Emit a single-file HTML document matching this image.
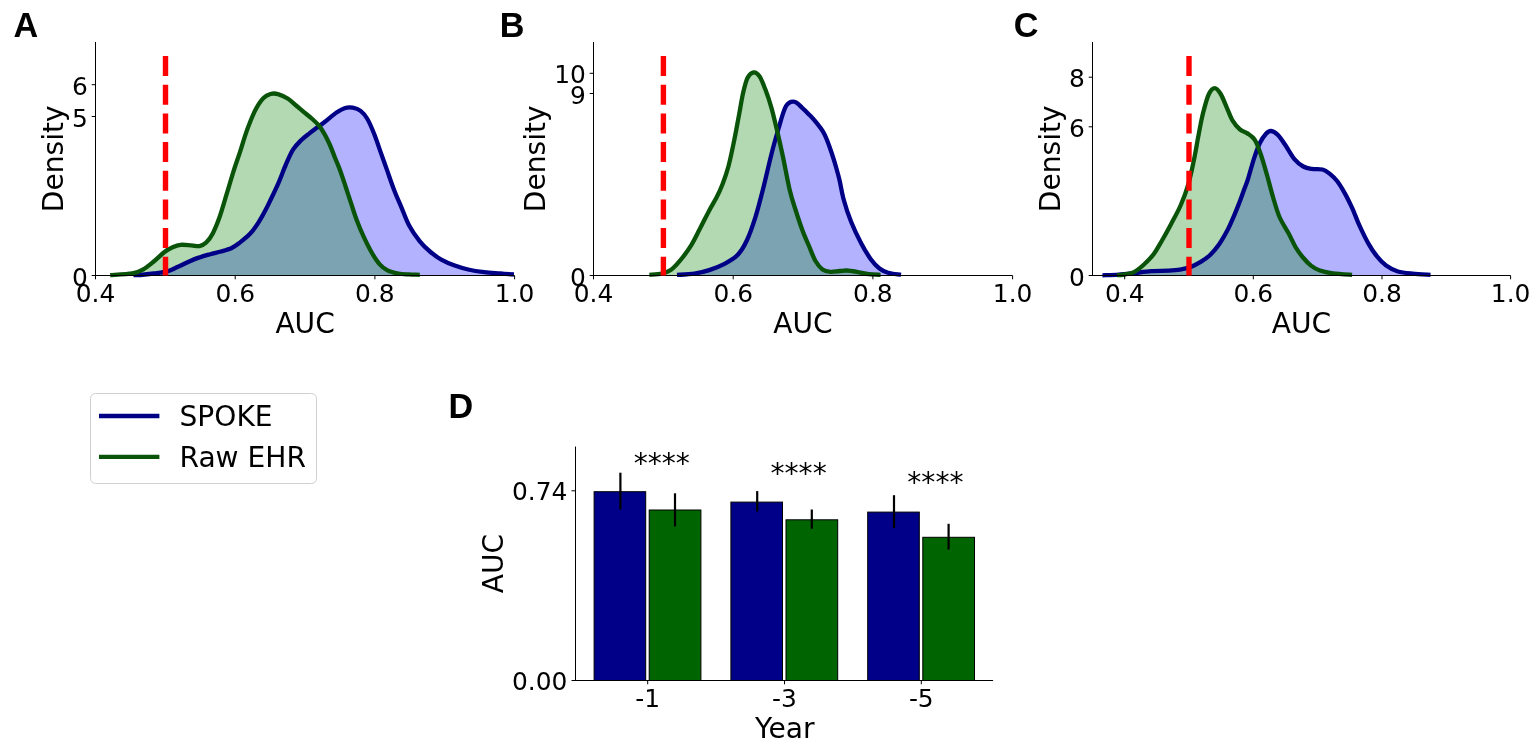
<!DOCTYPE html><html><head><meta charset="utf-8"><style>html,body{margin:0;padding:0;background:#fff;}svg{display:block;}text{font-family:"DejaVu Sans","Liberation Sans",sans-serif;fill:#000;}text.pl{font-family:"Liberation Sans",Arial,sans-serif;}</style></head><body>
<svg width="1535" height="744" viewBox="0 0 1535 744">
<rect x="0" y="0" width="1535" height="744" fill="#fff"/>
<path d="M133.5,275.2 C134.6,275.2 136.9,275.3 140.3,275.0 C143.7,274.7 149.3,274.1 153.8,273.5 C158.3,272.9 163.2,272.5 167.2,271.4 C171.2,270.3 174.4,268.4 178.0,266.8 C181.6,265.2 185.1,263.3 188.7,261.7 C192.3,260.1 195.9,258.6 199.5,257.4 C203.1,256.1 206.6,255.2 210.2,254.2 C213.8,253.2 217.4,252.5 221.0,251.5 C224.6,250.5 228.6,249.5 231.7,248.0 C234.8,246.5 236.9,244.8 239.8,242.6 C242.7,240.4 246.3,237.7 249.3,234.6 C252.3,231.5 254.9,228.0 257.6,223.8 C260.4,219.6 263.7,213.5 265.8,209.5 C267.9,205.5 268.4,204.4 270.5,200.0 C272.6,195.6 275.7,189.2 278.3,183.3 C280.9,177.4 283.4,170.1 285.9,164.5 C288.3,158.9 290.5,153.7 293.0,149.7 C295.5,145.7 298.4,143.0 301.1,140.3 C303.8,137.6 306.4,135.7 309.1,133.6 C311.8,131.5 314.5,129.6 317.2,127.6 C319.9,125.6 322.1,124.0 325.3,121.5 C328.5,119.0 333.3,114.7 336.5,112.5 C339.7,110.3 341.8,109.0 344.5,108.2 C347.2,107.4 349.9,107.2 352.6,107.7 C355.3,108.2 358.1,109.0 360.6,110.9 C363.1,112.8 365.1,115.2 367.4,119.0 C369.6,122.8 371.9,128.2 374.1,133.8 C376.3,139.4 378.6,146.3 380.8,152.6 C383.0,158.9 385.3,165.1 387.5,171.4 C389.7,177.7 391.9,184.4 394.2,190.2 C396.4,196.0 398.5,200.5 401.0,206.3 C403.5,212.1 405.9,219.4 409.0,225.2 C412.1,231.0 416.2,236.8 419.8,241.3 C423.4,245.8 426.9,248.9 430.5,252.0 C434.1,255.1 437.3,257.4 441.3,259.6 C445.3,261.9 450.2,263.9 454.7,265.5 C459.2,267.1 463.3,268.4 468.2,269.5 C473.1,270.6 478.9,271.5 484.3,272.2 C489.7,272.9 495.5,273.1 500.4,273.5 C505.3,273.9 511.6,274.3 513.9,274.5 L513.9,275.5 L133.5,275.5 Z" fill="rgba(0,0,255,0.3)" stroke="none"/>
<path d="M110.2,275.1 C113.9,274.8 126.8,274.2 132.3,273.3 C137.8,272.4 139.4,271.5 143.0,269.5 C146.6,267.5 150.2,264.4 153.8,261.5 C157.4,258.6 161.4,254.4 164.5,252.0 C167.6,249.6 169.9,248.4 172.6,247.2 C175.3,246.0 177.5,245.1 180.6,244.8 C183.7,244.5 188.2,245.1 191.4,245.3 C194.6,245.5 197.0,246.6 199.5,246.1 C202.0,245.6 204.0,244.8 206.2,242.6 C208.4,240.4 210.7,237.4 212.9,233.2 C215.1,228.9 217.2,223.8 219.6,217.1 C221.9,210.4 224.7,200.5 227.0,192.9 C229.3,185.3 231.4,178.1 233.5,171.4 C235.6,164.7 237.8,158.7 239.8,152.6 C241.8,146.5 243.5,140.5 245.3,135.1 C247.1,129.7 249.0,124.8 250.8,120.3 C252.6,115.8 254.2,111.9 256.3,108.2 C258.4,104.5 261.1,100.4 263.5,98.0 C265.9,95.6 268.1,94.7 270.5,94.0 C272.9,93.3 275.1,93.3 278.0,94.1 C280.9,94.9 285.1,96.9 288.1,98.8 C291.1,100.7 293.4,103.2 296.1,105.5 C298.8,107.8 301.5,110.0 304.2,112.3 C306.9,114.5 309.8,116.8 312.3,119.0 C314.8,121.2 317.0,123.2 319.0,125.7 C321.0,128.2 322.6,130.7 324.4,133.8 C326.2,136.9 327.9,140.5 329.7,144.5 C331.5,148.5 333.3,153.5 335.1,158.0 C336.9,162.5 338.7,166.5 340.5,171.4 C342.3,176.3 344.1,182.1 345.9,187.5 C347.7,192.9 349.4,198.3 351.2,203.7 C353.0,209.1 354.6,214.4 356.6,219.8 C358.6,225.2 360.8,230.5 363.3,235.9 C365.8,241.3 368.7,247.3 371.4,252.0 C374.1,256.7 376.8,261.1 379.5,264.1 C382.2,267.2 384.4,268.7 387.5,270.3 C390.6,271.9 394.7,272.8 398.3,273.5 C401.9,274.2 405.4,274.2 409.0,274.4 C412.6,274.6 418.0,274.7 419.8,274.8 L419.8,275.5 L110.2,275.5 Z" fill="rgba(0,128,0,0.3)" stroke="none"/>
<path d="M133.5,275.2 C134.6,275.2 136.9,275.3 140.3,275.0 C143.7,274.7 149.3,274.1 153.8,273.5 C158.3,272.9 163.2,272.5 167.2,271.4 C171.2,270.3 174.4,268.4 178.0,266.8 C181.6,265.2 185.1,263.3 188.7,261.7 C192.3,260.1 195.9,258.6 199.5,257.4 C203.1,256.1 206.6,255.2 210.2,254.2 C213.8,253.2 217.4,252.5 221.0,251.5 C224.6,250.5 228.6,249.5 231.7,248.0 C234.8,246.5 236.9,244.8 239.8,242.6 C242.7,240.4 246.3,237.7 249.3,234.6 C252.3,231.5 254.9,228.0 257.6,223.8 C260.4,219.6 263.7,213.5 265.8,209.5 C267.9,205.5 268.4,204.4 270.5,200.0 C272.6,195.6 275.7,189.2 278.3,183.3 C280.9,177.4 283.4,170.1 285.9,164.5 C288.3,158.9 290.5,153.7 293.0,149.7 C295.5,145.7 298.4,143.0 301.1,140.3 C303.8,137.6 306.4,135.7 309.1,133.6 C311.8,131.5 314.5,129.6 317.2,127.6 C319.9,125.6 322.1,124.0 325.3,121.5 C328.5,119.0 333.3,114.7 336.5,112.5 C339.7,110.3 341.8,109.0 344.5,108.2 C347.2,107.4 349.9,107.2 352.6,107.7 C355.3,108.2 358.1,109.0 360.6,110.9 C363.1,112.8 365.1,115.2 367.4,119.0 C369.6,122.8 371.9,128.2 374.1,133.8 C376.3,139.4 378.6,146.3 380.8,152.6 C383.0,158.9 385.3,165.1 387.5,171.4 C389.7,177.7 391.9,184.4 394.2,190.2 C396.4,196.0 398.5,200.5 401.0,206.3 C403.5,212.1 405.9,219.4 409.0,225.2 C412.1,231.0 416.2,236.8 419.8,241.3 C423.4,245.8 426.9,248.9 430.5,252.0 C434.1,255.1 437.3,257.4 441.3,259.6 C445.3,261.9 450.2,263.9 454.7,265.5 C459.2,267.1 463.3,268.4 468.2,269.5 C473.1,270.6 478.9,271.5 484.3,272.2 C489.7,272.9 495.5,273.1 500.4,273.5 C505.3,273.9 511.6,274.3 513.9,274.5" fill="none" stroke="#000086" stroke-width="4.30" stroke-linejoin="round" stroke-linecap="butt"/>
<path d="M110.2,275.1 C113.9,274.8 126.8,274.2 132.3,273.3 C137.8,272.4 139.4,271.5 143.0,269.5 C146.6,267.5 150.2,264.4 153.8,261.5 C157.4,258.6 161.4,254.4 164.5,252.0 C167.6,249.6 169.9,248.4 172.6,247.2 C175.3,246.0 177.5,245.1 180.6,244.8 C183.7,244.5 188.2,245.1 191.4,245.3 C194.6,245.5 197.0,246.6 199.5,246.1 C202.0,245.6 204.0,244.8 206.2,242.6 C208.4,240.4 210.7,237.4 212.9,233.2 C215.1,228.9 217.2,223.8 219.6,217.1 C221.9,210.4 224.7,200.5 227.0,192.9 C229.3,185.3 231.4,178.1 233.5,171.4 C235.6,164.7 237.8,158.7 239.8,152.6 C241.8,146.5 243.5,140.5 245.3,135.1 C247.1,129.7 249.0,124.8 250.8,120.3 C252.6,115.8 254.2,111.9 256.3,108.2 C258.4,104.5 261.1,100.4 263.5,98.0 C265.9,95.6 268.1,94.7 270.5,94.0 C272.9,93.3 275.1,93.3 278.0,94.1 C280.9,94.9 285.1,96.9 288.1,98.8 C291.1,100.7 293.4,103.2 296.1,105.5 C298.8,107.8 301.5,110.0 304.2,112.3 C306.9,114.5 309.8,116.8 312.3,119.0 C314.8,121.2 317.0,123.2 319.0,125.7 C321.0,128.2 322.6,130.7 324.4,133.8 C326.2,136.9 327.9,140.5 329.7,144.5 C331.5,148.5 333.3,153.5 335.1,158.0 C336.9,162.5 338.7,166.5 340.5,171.4 C342.3,176.3 344.1,182.1 345.9,187.5 C347.7,192.9 349.4,198.3 351.2,203.7 C353.0,209.1 354.6,214.4 356.6,219.8 C358.6,225.2 360.8,230.5 363.3,235.9 C365.8,241.3 368.7,247.3 371.4,252.0 C374.1,256.7 376.8,261.1 379.5,264.1 C382.2,267.2 384.4,268.7 387.5,270.3 C390.6,271.9 394.7,272.8 398.3,273.5 C401.9,274.2 405.4,274.2 409.0,274.4 C412.6,274.6 418.0,274.7 419.8,274.8" fill="none" stroke="#0a540a" stroke-width="4.30" stroke-linejoin="round" stroke-linecap="butt"/>
<line x1="95.5" y1="42" x2="95.5" y2="276.0" stroke="#000" stroke-width="1"/>
<line x1="95.0" y1="275.5" x2="514.6" y2="275.5" stroke="#000" stroke-width="1"/>
<line x1="95.5" y1="275.5" x2="95.5" y2="279.3" stroke="#000" stroke-width="1"/>
<text x="95.5" y="302.2" font-size="24.9" text-anchor="middle">0.4</text>
<line x1="235.2" y1="275.5" x2="235.2" y2="279.3" stroke="#000" stroke-width="1"/>
<text x="235.2" y="302.2" font-size="24.9" text-anchor="middle">0.6</text>
<line x1="374.9" y1="275.5" x2="374.9" y2="279.3" stroke="#000" stroke-width="1"/>
<text x="374.9" y="302.2" font-size="24.9" text-anchor="middle">0.8</text>
<line x1="514.6" y1="275.5" x2="514.6" y2="279.3" stroke="#000" stroke-width="1"/>
<text x="514.6" y="302.2" font-size="24.9" text-anchor="middle">1.0</text>
<line x1="91.7" y1="275.5" x2="95.5" y2="275.5" stroke="#000" stroke-width="1"/>
<text x="87.9" y="285.5" font-size="24.9" text-anchor="end">0</text>
<line x1="91.7" y1="116.5" x2="95.5" y2="116.5" stroke="#000" stroke-width="1"/>
<text x="87.9" y="126.5" font-size="24.9" text-anchor="end">5</text>
<line x1="91.7" y1="84.7" x2="95.5" y2="84.7" stroke="#000" stroke-width="1"/>
<text x="87.9" y="94.7" font-size="24.9" text-anchor="end">6</text>
<line x1="165.5" y1="56.1" x2="165.5" y2="275.5" stroke="#ff0000" stroke-width="5.4" stroke-dasharray="20 8.67"/>
<text x="305.1" y="332.7" font-size="28.1" text-anchor="middle">AUC</text>
<text transform="translate(63.3,158.8) rotate(-90)" x="0" y="0" font-size="28.1" text-anchor="middle">Density</text>
<text x="13.4" y="36.6" font-size="34.2" font-weight="bold" class="pl">A</text>
<path d="M677.0,274.9 C679.9,274.7 689.0,274.4 694.4,273.6 C699.8,272.8 704.3,271.7 709.2,270.1 C714.1,268.5 719.3,266.6 724.0,264.1 C728.7,261.6 733.5,259.2 737.3,255.3 C741.1,251.4 743.8,246.9 746.8,240.5 C749.8,234.1 752.7,225.7 755.5,216.8 C758.3,207.9 760.9,197.5 763.5,187.2 C766.1,176.8 768.8,164.6 771.3,154.7 C773.8,144.8 776.3,136.1 778.7,128.0 C781.1,119.9 783.4,110.7 785.9,106.3 C788.4,101.9 791.3,101.3 794.0,101.6 C796.7,101.8 799.6,105.5 802.2,107.8 C804.8,110.0 807.1,112.5 809.6,115.1 C812.1,117.7 814.8,120.6 817.0,123.3 C819.2,126.0 821.2,128.6 822.9,131.4 C824.6,134.2 825.5,136.2 827.0,140.0 C828.5,143.8 830.5,149.5 832.0,154.0 C833.5,158.5 834.8,162.7 836.0,167.0 C837.2,171.3 838.2,174.5 839.5,180.0 C840.8,185.5 841.9,193.1 843.8,200.0 C845.7,206.9 848.1,214.3 851.0,221.5 C853.9,228.7 857.7,236.7 861.0,243.0 C864.3,249.3 867.9,255.2 871.0,259.5 C874.1,263.8 876.7,266.3 879.5,268.5 C882.3,270.7 884.4,271.6 888.0,272.7 C891.6,273.8 898.8,274.4 901.0,274.8 L901.0,275.5 L677.0,275.5 Z" fill="rgba(0,0,255,0.3)" stroke="none"/>
<path d="M649.4,274.8 C651.5,274.6 658.2,274.4 661.8,273.6 C665.3,272.8 667.7,272.2 670.7,270.1 C673.7,268.0 676.3,265.1 679.6,261.2 C682.9,257.2 687.1,251.8 690.5,246.4 C693.9,241.0 696.9,234.5 700.0,228.6 C703.1,222.7 706.2,216.1 709.0,210.9 C711.8,205.7 714.2,202.0 716.5,197.6 C718.8,193.2 720.5,189.5 722.5,184.3 C724.5,179.1 726.4,173.9 728.4,166.5 C730.4,159.1 732.6,148.3 734.3,139.9 C736.0,131.5 737.3,124.1 738.8,116.2 C740.3,108.3 741.7,98.9 743.2,92.5 C744.7,86.1 745.9,81.1 747.6,77.8 C749.3,74.5 751.6,72.7 753.6,72.4 C755.6,72.2 757.5,73.4 759.5,76.3 C761.5,79.2 763.4,84.4 765.4,89.6 C767.4,94.8 769.3,100.4 771.3,107.3 C773.3,114.2 775.2,122.7 777.2,131.0 C779.2,139.3 780.9,147.2 783.0,157.0 C785.1,166.8 787.6,181.2 789.7,190.0 C791.8,198.8 793.5,203.3 795.6,210.0 C797.7,216.7 800.1,224.0 802.3,230.0 C804.5,236.0 806.8,240.8 809.0,246.0 C811.2,251.2 813.2,257.1 815.5,261.0 C817.8,264.9 820.0,267.7 822.5,269.5 C825.0,271.3 827.7,271.6 830.5,271.8 C833.3,272.1 836.6,271.2 839.3,271.0 C842.0,270.8 843.7,270.4 846.6,270.5 C849.5,270.6 853.2,271.2 856.9,271.8 C860.6,272.4 864.8,273.7 868.8,274.2 C872.8,274.7 878.6,274.7 880.6,274.8 L880.6,275.5 L649.4,275.5 Z" fill="rgba(0,128,0,0.3)" stroke="none"/>
<path d="M677.0,274.9 C679.9,274.7 689.0,274.4 694.4,273.6 C699.8,272.8 704.3,271.7 709.2,270.1 C714.1,268.5 719.3,266.6 724.0,264.1 C728.7,261.6 733.5,259.2 737.3,255.3 C741.1,251.4 743.8,246.9 746.8,240.5 C749.8,234.1 752.7,225.7 755.5,216.8 C758.3,207.9 760.9,197.5 763.5,187.2 C766.1,176.8 768.8,164.6 771.3,154.7 C773.8,144.8 776.3,136.1 778.7,128.0 C781.1,119.9 783.4,110.7 785.9,106.3 C788.4,101.9 791.3,101.3 794.0,101.6 C796.7,101.8 799.6,105.5 802.2,107.8 C804.8,110.0 807.1,112.5 809.6,115.1 C812.1,117.7 814.8,120.6 817.0,123.3 C819.2,126.0 821.2,128.6 822.9,131.4 C824.6,134.2 825.5,136.2 827.0,140.0 C828.5,143.8 830.5,149.5 832.0,154.0 C833.5,158.5 834.8,162.7 836.0,167.0 C837.2,171.3 838.2,174.5 839.5,180.0 C840.8,185.5 841.9,193.1 843.8,200.0 C845.7,206.9 848.1,214.3 851.0,221.5 C853.9,228.7 857.7,236.7 861.0,243.0 C864.3,249.3 867.9,255.2 871.0,259.5 C874.1,263.8 876.7,266.3 879.5,268.5 C882.3,270.7 884.4,271.6 888.0,272.7 C891.6,273.8 898.8,274.4 901.0,274.8" fill="none" stroke="#000086" stroke-width="4.30" stroke-linejoin="round" stroke-linecap="butt"/>
<path d="M649.4,274.8 C651.5,274.6 658.2,274.4 661.8,273.6 C665.3,272.8 667.7,272.2 670.7,270.1 C673.7,268.0 676.3,265.1 679.6,261.2 C682.9,257.2 687.1,251.8 690.5,246.4 C693.9,241.0 696.9,234.5 700.0,228.6 C703.1,222.7 706.2,216.1 709.0,210.9 C711.8,205.7 714.2,202.0 716.5,197.6 C718.8,193.2 720.5,189.5 722.5,184.3 C724.5,179.1 726.4,173.9 728.4,166.5 C730.4,159.1 732.6,148.3 734.3,139.9 C736.0,131.5 737.3,124.1 738.8,116.2 C740.3,108.3 741.7,98.9 743.2,92.5 C744.7,86.1 745.9,81.1 747.6,77.8 C749.3,74.5 751.6,72.7 753.6,72.4 C755.6,72.2 757.5,73.4 759.5,76.3 C761.5,79.2 763.4,84.4 765.4,89.6 C767.4,94.8 769.3,100.4 771.3,107.3 C773.3,114.2 775.2,122.7 777.2,131.0 C779.2,139.3 780.9,147.2 783.0,157.0 C785.1,166.8 787.6,181.2 789.7,190.0 C791.8,198.8 793.5,203.3 795.6,210.0 C797.7,216.7 800.1,224.0 802.3,230.0 C804.5,236.0 806.8,240.8 809.0,246.0 C811.2,251.2 813.2,257.1 815.5,261.0 C817.8,264.9 820.0,267.7 822.5,269.5 C825.0,271.3 827.7,271.6 830.5,271.8 C833.3,272.1 836.6,271.2 839.3,271.0 C842.0,270.8 843.7,270.4 846.6,270.5 C849.5,270.6 853.2,271.2 856.9,271.8 C860.6,272.4 864.8,273.7 868.8,274.2 C872.8,274.7 878.6,274.7 880.6,274.8" fill="none" stroke="#0a540a" stroke-width="4.30" stroke-linejoin="round" stroke-linecap="butt"/>
<line x1="593.5" y1="42" x2="593.5" y2="276.0" stroke="#000" stroke-width="1"/>
<line x1="593.0" y1="275.5" x2="1012.6" y2="275.5" stroke="#000" stroke-width="1"/>
<line x1="593.5" y1="275.5" x2="593.5" y2="279.3" stroke="#000" stroke-width="1"/>
<text x="593.5" y="302.2" font-size="24.9" text-anchor="middle">0.4</text>
<line x1="733.2" y1="275.5" x2="733.2" y2="279.3" stroke="#000" stroke-width="1"/>
<text x="733.2" y="302.2" font-size="24.9" text-anchor="middle">0.6</text>
<line x1="872.9" y1="275.5" x2="872.9" y2="279.3" stroke="#000" stroke-width="1"/>
<text x="872.9" y="302.2" font-size="24.9" text-anchor="middle">0.8</text>
<line x1="1012.6" y1="275.5" x2="1012.6" y2="279.3" stroke="#000" stroke-width="1"/>
<text x="1012.6" y="302.2" font-size="24.9" text-anchor="middle">1.0</text>
<line x1="589.7" y1="275.5" x2="593.5" y2="275.5" stroke="#000" stroke-width="1"/>
<text x="585.9" y="285.5" font-size="24.9" text-anchor="end">0</text>
<line x1="589.7" y1="93.5" x2="593.5" y2="93.5" stroke="#000" stroke-width="1"/>
<text x="585.9" y="103.5" font-size="24.9" text-anchor="end">9</text>
<line x1="589.7" y1="73.3" x2="593.5" y2="73.3" stroke="#000" stroke-width="1"/>
<text x="585.9" y="83.3" font-size="24.9" text-anchor="end">10</text>
<line x1="663.4" y1="56.1" x2="663.4" y2="275.5" stroke="#ff0000" stroke-width="5.4" stroke-dasharray="20 8.67"/>
<text x="803.0" y="332.7" font-size="28.1" text-anchor="middle">AUC</text>
<text transform="translate(544.5,158.8) rotate(-90)" x="0" y="0" font-size="28.1" text-anchor="middle">Density</text>
<text x="499.7" y="36.6" font-size="34.2" font-weight="bold" class="pl">B</text>
<path d="M1102.4,275.3 C1105.1,275.2 1113.5,275.1 1118.7,274.7 C1123.9,274.3 1128.1,273.8 1133.5,273.2 C1138.9,272.6 1145.3,271.6 1151.2,271.2 C1157.1,270.8 1164.2,271.0 1169.0,270.7 C1173.8,270.4 1176.4,270.2 1180.0,269.6 C1183.6,269.0 1187.4,268.1 1190.8,266.9 C1194.2,265.7 1197.1,264.1 1200.2,262.2 C1203.3,260.3 1206.5,258.4 1209.6,255.5 C1212.7,252.6 1216.1,248.6 1219.0,244.5 C1221.9,240.4 1224.5,235.8 1227.0,231.1 C1229.5,226.4 1231.7,221.1 1233.8,216.3 C1235.9,211.5 1237.6,207.1 1239.4,202.5 C1241.2,197.9 1243.0,192.5 1244.5,188.5 C1246.0,184.5 1246.6,183.5 1248.2,178.3 C1249.8,173.2 1252.3,163.5 1254.3,157.6 C1256.3,151.7 1258.1,146.7 1260.0,142.8 C1261.9,138.9 1264.0,136.0 1265.8,134.0 C1267.6,132.0 1268.9,130.8 1271.0,131.0 C1273.1,131.2 1275.9,132.9 1278.4,135.4 C1280.9,137.9 1283.1,141.9 1285.8,145.8 C1288.5,149.8 1291.5,155.7 1294.4,159.1 C1297.3,162.5 1300.3,164.9 1303.3,166.5 C1306.2,168.1 1308.9,168.4 1312.1,168.9 C1315.3,169.4 1319.5,168.7 1322.5,169.5 C1325.5,170.3 1327.4,171.9 1329.9,173.9 C1332.4,175.9 1334.8,178.1 1337.3,181.3 C1339.8,184.5 1342.2,188.7 1344.7,193.1 C1347.2,197.5 1349.6,202.5 1352.1,207.9 C1354.6,213.3 1356.8,219.8 1359.5,225.7 C1362.2,231.6 1365.3,238.2 1368.3,243.4 C1371.2,248.6 1374.2,253.0 1377.2,256.7 C1380.2,260.4 1382.6,263.1 1386.1,265.6 C1389.5,268.1 1393.5,270.2 1397.9,271.5 C1402.3,272.8 1407.3,273.1 1412.7,273.6 C1418.1,274.2 1427.5,274.6 1430.5,274.8 L1430.5,275.5 L1102.4,275.5 Z" fill="rgba(0,0,255,0.3)" stroke="none"/>
<path d="M1117.0,275.2 C1118.2,275.1 1121.1,275.2 1124.0,274.6 C1126.9,274.0 1131.1,273.6 1134.5,271.8 C1137.9,270.0 1141.3,267.0 1144.5,264.0 C1147.7,261.0 1150.9,257.9 1153.8,254.0 C1156.7,250.1 1159.1,245.5 1162.0,240.5 C1164.9,235.5 1167.9,230.1 1171.0,224.2 C1174.1,218.3 1177.9,211.7 1180.8,205.0 C1183.7,198.3 1186.1,191.7 1188.3,184.3 C1190.5,176.9 1192.1,168.5 1193.8,160.6 C1195.5,152.7 1196.7,144.8 1198.2,136.9 C1199.7,129.0 1201.2,120.5 1203.0,113.3 C1204.8,106.1 1206.9,98.2 1208.9,94.0 C1210.9,89.8 1212.8,88.1 1214.8,88.1 C1216.8,88.1 1218.7,90.8 1220.7,94.0 C1222.7,97.2 1224.7,102.8 1226.7,107.3 C1228.7,111.8 1230.4,117.0 1232.6,120.7 C1234.8,124.4 1237.5,127.4 1240.0,129.5 C1242.5,131.6 1244.9,131.7 1247.4,133.4 C1249.9,135.1 1252.5,136.3 1254.8,139.9 C1257.1,143.5 1259.0,149.2 1261.0,155.0 C1263.0,160.8 1265.0,168.0 1267.0,175.0 C1269.0,182.0 1270.9,190.0 1273.0,197.0 C1275.1,204.0 1276.9,211.0 1279.5,217.0 C1282.1,223.0 1285.7,228.0 1288.4,233.0 C1291.1,238.0 1293.1,242.9 1295.5,247.0 C1297.9,251.1 1300.4,254.4 1303.0,257.5 C1305.6,260.6 1308.2,263.4 1311.0,265.6 C1313.8,267.8 1316.3,269.2 1320.0,270.5 C1323.7,271.8 1327.7,272.7 1333.0,273.4 C1338.3,274.1 1348.9,274.6 1352.1,274.8 L1352.1,275.5 L1117.0,275.5 Z" fill="rgba(0,128,0,0.3)" stroke="none"/>
<path d="M1102.4,275.3 C1105.1,275.2 1113.5,275.1 1118.7,274.7 C1123.9,274.3 1128.1,273.8 1133.5,273.2 C1138.9,272.6 1145.3,271.6 1151.2,271.2 C1157.1,270.8 1164.2,271.0 1169.0,270.7 C1173.8,270.4 1176.4,270.2 1180.0,269.6 C1183.6,269.0 1187.4,268.1 1190.8,266.9 C1194.2,265.7 1197.1,264.1 1200.2,262.2 C1203.3,260.3 1206.5,258.4 1209.6,255.5 C1212.7,252.6 1216.1,248.6 1219.0,244.5 C1221.9,240.4 1224.5,235.8 1227.0,231.1 C1229.5,226.4 1231.7,221.1 1233.8,216.3 C1235.9,211.5 1237.6,207.1 1239.4,202.5 C1241.2,197.9 1243.0,192.5 1244.5,188.5 C1246.0,184.5 1246.6,183.5 1248.2,178.3 C1249.8,173.2 1252.3,163.5 1254.3,157.6 C1256.3,151.7 1258.1,146.7 1260.0,142.8 C1261.9,138.9 1264.0,136.0 1265.8,134.0 C1267.6,132.0 1268.9,130.8 1271.0,131.0 C1273.1,131.2 1275.9,132.9 1278.4,135.4 C1280.9,137.9 1283.1,141.9 1285.8,145.8 C1288.5,149.8 1291.5,155.7 1294.4,159.1 C1297.3,162.5 1300.3,164.9 1303.3,166.5 C1306.2,168.1 1308.9,168.4 1312.1,168.9 C1315.3,169.4 1319.5,168.7 1322.5,169.5 C1325.5,170.3 1327.4,171.9 1329.9,173.9 C1332.4,175.9 1334.8,178.1 1337.3,181.3 C1339.8,184.5 1342.2,188.7 1344.7,193.1 C1347.2,197.5 1349.6,202.5 1352.1,207.9 C1354.6,213.3 1356.8,219.8 1359.5,225.7 C1362.2,231.6 1365.3,238.2 1368.3,243.4 C1371.2,248.6 1374.2,253.0 1377.2,256.7 C1380.2,260.4 1382.6,263.1 1386.1,265.6 C1389.5,268.1 1393.5,270.2 1397.9,271.5 C1402.3,272.8 1407.3,273.1 1412.7,273.6 C1418.1,274.2 1427.5,274.6 1430.5,274.8" fill="none" stroke="#000086" stroke-width="4.30" stroke-linejoin="round" stroke-linecap="butt"/>
<path d="M1117.0,275.2 C1118.2,275.1 1121.1,275.2 1124.0,274.6 C1126.9,274.0 1131.1,273.6 1134.5,271.8 C1137.9,270.0 1141.3,267.0 1144.5,264.0 C1147.7,261.0 1150.9,257.9 1153.8,254.0 C1156.7,250.1 1159.1,245.5 1162.0,240.5 C1164.9,235.5 1167.9,230.1 1171.0,224.2 C1174.1,218.3 1177.9,211.7 1180.8,205.0 C1183.7,198.3 1186.1,191.7 1188.3,184.3 C1190.5,176.9 1192.1,168.5 1193.8,160.6 C1195.5,152.7 1196.7,144.8 1198.2,136.9 C1199.7,129.0 1201.2,120.5 1203.0,113.3 C1204.8,106.1 1206.9,98.2 1208.9,94.0 C1210.9,89.8 1212.8,88.1 1214.8,88.1 C1216.8,88.1 1218.7,90.8 1220.7,94.0 C1222.7,97.2 1224.7,102.8 1226.7,107.3 C1228.7,111.8 1230.4,117.0 1232.6,120.7 C1234.8,124.4 1237.5,127.4 1240.0,129.5 C1242.5,131.6 1244.9,131.7 1247.4,133.4 C1249.9,135.1 1252.5,136.3 1254.8,139.9 C1257.1,143.5 1259.0,149.2 1261.0,155.0 C1263.0,160.8 1265.0,168.0 1267.0,175.0 C1269.0,182.0 1270.9,190.0 1273.0,197.0 C1275.1,204.0 1276.9,211.0 1279.5,217.0 C1282.1,223.0 1285.7,228.0 1288.4,233.0 C1291.1,238.0 1293.1,242.9 1295.5,247.0 C1297.9,251.1 1300.4,254.4 1303.0,257.5 C1305.6,260.6 1308.2,263.4 1311.0,265.6 C1313.8,267.8 1316.3,269.2 1320.0,270.5 C1323.7,271.8 1327.7,272.7 1333.0,273.4 C1338.3,274.1 1348.9,274.6 1352.1,274.8" fill="none" stroke="#0a540a" stroke-width="4.30" stroke-linejoin="round" stroke-linecap="butt"/>
<line x1="1092.5" y1="42" x2="1092.5" y2="276.0" stroke="#000" stroke-width="1"/>
<line x1="1092.0" y1="275.5" x2="1510.6" y2="275.5" stroke="#000" stroke-width="1"/>
<line x1="1124.7" y1="275.5" x2="1124.7" y2="279.3" stroke="#000" stroke-width="1"/>
<text x="1124.7" y="302.2" font-size="24.9" text-anchor="middle">0.4</text>
<line x1="1253.3" y1="275.5" x2="1253.3" y2="279.3" stroke="#000" stroke-width="1"/>
<text x="1253.3" y="302.2" font-size="24.9" text-anchor="middle">0.6</text>
<line x1="1382.0" y1="275.5" x2="1382.0" y2="279.3" stroke="#000" stroke-width="1"/>
<text x="1382.0" y="302.2" font-size="24.9" text-anchor="middle">0.8</text>
<line x1="1510.6" y1="275.5" x2="1510.6" y2="279.3" stroke="#000" stroke-width="1"/>
<text x="1510.6" y="302.2" font-size="24.9" text-anchor="middle">1.0</text>
<line x1="1088.7" y1="275.5" x2="1092.5" y2="275.5" stroke="#000" stroke-width="1"/>
<text x="1084.9" y="285.5" font-size="24.9" text-anchor="end">0</text>
<line x1="1088.7" y1="126.8" x2="1092.5" y2="126.8" stroke="#000" stroke-width="1"/>
<text x="1084.9" y="136.8" font-size="24.9" text-anchor="end">6</text>
<line x1="1088.7" y1="77.2" x2="1092.5" y2="77.2" stroke="#000" stroke-width="1"/>
<text x="1084.9" y="87.2" font-size="24.9" text-anchor="end">8</text>
<line x1="1189.0" y1="56.1" x2="1189.0" y2="275.5" stroke="#ff0000" stroke-width="5.4" stroke-dasharray="20 8.67"/>
<text x="1301.5" y="332.7" font-size="28.1" text-anchor="middle">AUC</text>
<text transform="translate(1060.3,158.8) rotate(-90)" x="0" y="0" font-size="28.1" text-anchor="middle">Density</text>
<text x="1013.7" y="36.6" font-size="34.2" font-weight="bold" class="pl">C</text>
<rect x="90.5" y="393.5" width="226" height="90" rx="5" ry="5" fill="#fff" stroke="#d0d0d0" stroke-width="1"/>
<line x1="99" y1="416" x2="159.4" y2="416" stroke="#000086" stroke-width="4.30"/>
<line x1="99" y1="456.9" x2="159.4" y2="456.9" stroke="#0a540a" stroke-width="4.30"/>
<text x="179.5" y="425.7" font-size="28.1">SPOKE</text>
<text x="179.5" y="466.7" font-size="28.1">Raw EHR</text>
<rect x="594.1" y="491.7" width="51.6" height="188.8" fill="#000088" stroke="#000" stroke-width="1"/>
<rect x="649.2" y="510.0" width="51.7" height="170.5" fill="#006400" stroke="#000" stroke-width="1"/>
<line x1="620.4" y1="472.7" x2="620.4" y2="509.5" stroke="#000" stroke-width="2.2"/>
<line x1="675.0" y1="493.3" x2="675.0" y2="526.4" stroke="#000" stroke-width="2.2"/>
<text x="661.8" y="473.4" font-size="28.1" text-anchor="middle">****</text>
<line x1="647.7" y1="680.5" x2="647.7" y2="684.3" stroke="#000" stroke-width="1"/>
<text x="647.7" y="707.3" font-size="24.9" text-anchor="middle">-1</text>
<rect x="730.9" y="502.1" width="51.6" height="178.4" fill="#000088" stroke="#000" stroke-width="1"/>
<rect x="786.0" y="519.8" width="51.7" height="160.7" fill="#006400" stroke="#000" stroke-width="1"/>
<line x1="757.2" y1="491.1" x2="757.2" y2="511.5" stroke="#000" stroke-width="2.2"/>
<line x1="811.8" y1="509.5" x2="811.8" y2="528.7" stroke="#000" stroke-width="2.2"/>
<text x="798.6" y="482.5" font-size="28.1" text-anchor="middle">****</text>
<line x1="784.5" y1="680.5" x2="784.5" y2="684.3" stroke="#000" stroke-width="1"/>
<text x="784.5" y="707.3" font-size="24.9" text-anchor="middle">-3</text>
<rect x="867.7" y="512.1" width="51.6" height="168.4" fill="#000088" stroke="#000" stroke-width="1"/>
<rect x="922.8" y="537.3" width="51.7" height="143.2" fill="#006400" stroke="#000" stroke-width="1"/>
<line x1="894.0" y1="495.2" x2="894.0" y2="527.9" stroke="#000" stroke-width="2.2"/>
<line x1="948.6" y1="523.8" x2="948.6" y2="549.6" stroke="#000" stroke-width="2.2"/>
<text x="935.4" y="491.9" font-size="28.1" text-anchor="middle">****</text>
<line x1="921.3" y1="680.5" x2="921.3" y2="684.3" stroke="#000" stroke-width="1"/>
<text x="921.3" y="707.3" font-size="24.9" text-anchor="middle">-5</text>
<line x1="575.5" y1="446.6" x2="575.5" y2="681.0" stroke="#000" stroke-width="1"/>
<line x1="575" y1="680.5" x2="993.1" y2="680.5" stroke="#000" stroke-width="1"/>
<line x1="571.5" y1="680.5" x2="575.5" y2="680.5" stroke="#000" stroke-width="1"/>
<text x="567.4" y="689.5" font-size="24.9" text-anchor="end">0.00</text>
<line x1="571.5" y1="490.8" x2="575.5" y2="490.8" stroke="#000" stroke-width="1"/>
<text x="567.4" y="499.8" font-size="24.9" text-anchor="end">0.74</text>
<text x="784.7" y="738" font-size="28.1" text-anchor="middle">Year</text>
<text transform="translate(503,563.5) rotate(-90)" x="0" y="0" font-size="28.1" text-anchor="middle">AUC</text>
<text x="448.4" y="417.6" font-size="34.2" font-weight="bold" class="pl">D</text>
</svg></body></html>
